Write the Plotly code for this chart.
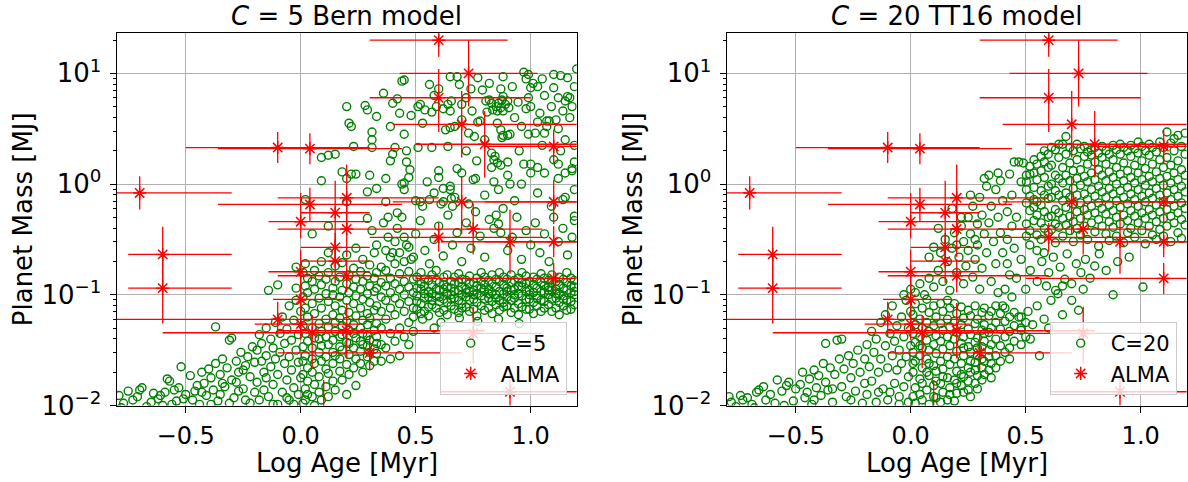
import numpy as np
import plotly.graph_objects as go

# ---------------- ALMA candidate planets (same in both panels) ----------------
alma_log_age = [0.60, 0.73, 0.60, 0.70, 0.80, 1.10, -0.10, 0.04, -0.70, -0.60, -0.60, 0.70, 1.10,
                0.04, 0.20, 0.15, 0.00, 0.20, 0.60, 0.75, 0.91, 1.10, 1.10, 0.15, 0.15, 0.20,
                0.00, 0.00, -0.10, 0.00, 0.05, 0.20, 0.30, 0.75, 0.91, 0.10]
alma_log_mass = [1.30, 1.00, 0.78, 0.54, 0.36, 0.34, 0.33, 0.32, -0.08, -0.635, -0.94, -0.16, -0.16,
                 -0.184, -0.124, -0.259, -0.34, -0.406, -0.482, -0.406, -0.521, -0.521, -0.852, -0.572, -0.696, -0.828,
                 -0.792, -1.042, -1.222, -1.265, -1.343, -1.325, -1.524, -1.349, -1.876, -2.10]
alma_age_err_lo = [0.30, 0.30, 0.30, 0.30, 0.30, 0.30, 0.40, 0.40, 0.40, 0.15, 0.15, 0.30, 0.30,
                   0.40, 0.30, 0.15, 0.14, 0.30, 0.30, 0.35, 0.30, 0.30, 0.60, 0.15, 0.15, 0.30,
                   0.14, 0.12, 0.70, 0.20, 0.65, 0.30, 0.40, 0.31, 0.30, 0.30]
alma_age_err_hi = [0.30, 0.30, 0.40, 0.60, 0.60, 0.30, 0.40, 0.40, 0.40, 0.30, 0.30, 0.60, 0.30,
                   0.40, 0.40, 0.15, 0.30, 0.30, 0.45, 0.30, 0.30, 0.30, 0.30, 0.15, 0.15, 0.40,
                   0.30, 0.18, 0.50, 0.26, 0.40, 0.60, 0.40, 0.30, 0.30, 0.30]
alma_mass_err_lo_dex = [0.15, 0.30, 0.31, 0.30, 0.30, 0.15, 0.14, 0.14, 0.15, 0.25, 0.32, 0.29, 0.20,
                        0.15, 0.29, 0.28, 0.15, 0.25, 0.13, 0.23, 0.29, 0.14, 0.14, 0.13, 0.20, 0.15,
                        0.20, 0.20, 0.16, 0.14, 0.32, 0.25, 0.16, 0.27, 0.22, 0.20]
alma_mass_err_hi_dex = [0.15, 0.30, 0.26, 0.30, 0.30, 0.15, 0.14, 0.14, 0.15, 0.25, 0.30, 0.23, 0.20,
                        0.15, 0.30, 0.29, 0.26, 0.25, 0.13, 0.23, 0.29, 0.14, 0.14, 0.13, 0.20, 0.15,
                        0.20, 0.20, 0.16, 0.14, 0.16, 0.25, 0.16, 0.24, 0.22, 0.33]

# ---------------- C=5 Bern model population (log age, log10 mass) ----------------
bern_points = [
    # tail
    (-0.79,-1.91),(-0.77,-1.98),(-0.75,-1.87),(-0.73,-1.95),(-0.71,-1.92),(-0.70,-1.86),(-0.69,-1.84),
    (-0.67,-2.01),(-0.65,-1.97),(-0.64,-1.89),(-0.62,-1.94),(-0.61,-1.91),(-0.59,-1.88),(-0.58,-1.76),
    (-0.57,-1.78),(-0.56,-1.99),(-0.55,-1.86),(-0.53,-1.84),(-0.52,-1.65),(-0.51,-1.94),(-0.50,-1.90),
    (-0.78,-2.02),(-0.60,-2.00),(-0.54,-1.96),
    (-0.48,-1.73),(-0.47,-1.95),(-0.46,-1.87),(-0.45,-1.82),(-0.44,-1.99),(-0.43,-1.70),(-0.42,-1.80),
    (-0.41,-1.91),(-0.40,-1.67),(-0.39,-1.75),(-0.38,-1.86),(-0.37,-1.29),(-0.37,-1.62),(-0.36,-1.96),
    (-0.35,-1.72),(-0.34,-1.58),(-0.33,-1.83),(-0.32,-1.66),(-0.31,-1.41),(-0.30,-1.39),(-0.30,-1.77),
    (-0.29,-1.93),(-0.28,-1.60),(-0.27,-1.70),(-0.26,-1.52),(-0.25,-1.85),(-0.24,-1.64),(-0.23,-1.56),
    (-0.22,-1.98),(-0.22,-1.74),(-0.21,-1.47),(-0.20,-1.61),(-0.20,-1.88),(-0.43,-1.88),(-0.39,-1.99),
    (-0.35,-1.90),(-0.31,-1.98),(-0.27,-1.87),(-0.24,-1.95),(-0.34,-1.80),(-0.28,-1.79),(-0.25,-1.68),
    (-0.19,-1.50),(-0.19,-1.79),(-0.18,-1.36),(-0.18,-1.95),(-0.17,-1.60),(-0.17,-1.44),(-0.16,-1.86),
    (-0.16,-1.70),(-0.15,-1.30),(-0.15,-1.55),(-0.14,-0.96),(-0.14,-1.92),(-0.13,-1.65),(-0.13,-1.40),
    (-0.12,-1.48),(-0.12,-1.81),(-0.11,-1.25),(-0.11,-1.58),(-0.10,-1.99),(-0.10,-1.72),(-0.10,-0.91),
    (-0.09,-1.35),(-0.09,-1.52),(-0.08,-1.88),(-0.08,-1.20),(-0.07,-1.62),(-0.07,-1.44),(-0.06,-1.77),
    (-0.06,-1.31),(-0.05,-1.10),(-0.05,-1.56),(-0.05,-1.95),(-0.04,-1.41),(-0.04,-1.68),(-0.03,-1.23),
    (-0.03,-1.84),(-0.02,-1.50),(-0.02,-1.05),(-0.02,-0.94),(-0.01,-1.36),(-0.01,-1.61),(-0.01,-1.90),
    (0.00,-1.15),(0.00,-1.75),(-0.06,-1.93),(-0.15,-1.75),(-0.12,-1.99),(-0.03,-1.99),(-0.02,-0.75),
    # scatter above the core
    (0.20,0.70),(0.28,0.71),(0.29,0.67),(0.33,0.61),(0.21,0.55),(0.22,0.52),(0.31,0.47),(0.31,0.40),
    (0.31,0.33),(0.23,0.34),(0.09,0.24),(0.12,0.26),(0.15,0.27),(0.09,0.03),(0.18,0.11),(0.20,0.05),
    (0.22,0.09),(0.24,0.09),(0.30,0.08),(0.29,-0.07),(0.33,-0.04),(0.37,0.05),(0.02,-0.14),(0.36,0.82),
    (0.40,0.73),(0.43,0.64),(0.42,0.77),(0.39,0.52),(0.39,0.21),(0.40,0.27),(0.41,0.33),(0.44,0.93),
    (0.44,0.00),(0.37,-0.16),(0.38,-0.30),(0.42,-0.26),(0.29,-0.31),(0.20,-0.16),(0.05,-0.45),(0.12,-0.38),
    # middle zone
    (0.31,-0.42),(0.33,-0.55),(0.36,-0.35),(0.38,-0.48),(0.40,-0.62),(0.42,-0.40),(0.44,-0.30),(0.46,-0.55),
    (0.48,-0.68),(0.50,-0.45),(0.52,-0.33),(0.54,-0.60),(0.56,-0.72),(0.58,-0.50),(0.60,-0.38),(0.62,-0.65),
    (0.64,-0.28),(0.66,-0.55),(0.68,-0.44),(0.70,-0.70),(0.72,-0.35),(0.74,-0.58),(0.76,-0.25),(0.78,-0.47),
    (0.80,-0.66),(0.82,-0.32),(0.84,-0.40),(0.85,-0.28),(0.86,-0.36),(0.87,-0.44),(0.88,-0.22),(0.90,-0.60),
    (0.92,-0.48),(0.94,-0.30),(0.96,-0.68),(0.98,-0.42),(1.00,-0.55),(1.02,-0.35),(1.04,-0.62),(1.06,-0.45),
    (1.08,-0.70),(1.10,-0.30),(1.12,-0.52),(1.14,-0.40),(1.16,-0.64),(1.18,-0.48),(1.19,-0.33),(1.19,-0.29),
    (0.45,-0.05),(0.47,0.06),(0.50,-0.15),(0.53,-0.20),(0.55,0.02),(0.58,-0.08),(0.60,0.12),(0.62,-0.16),
    (0.65,-0.02),(0.67,-0.12),(0.70,0.10),(0.73,-0.18),(0.76,0.05),(0.80,-0.10),(0.83,0.15),(0.86,-0.05),
    (0.90,0.08),(0.93,-0.15),(0.96,0.00),(1.00,0.18),(1.03,-0.08),(1.06,0.10),(1.09,-0.20),(1.12,0.05),
    (1.15,-0.12),(1.18,0.14),(1.19,-0.05),(1.15,0.10),(1.14,-0.14),
    (0.53,-1.22),(0.61,-1.25),(0.69,-1.21),(0.77,-1.24),(0.86,-1.22),(0.95,-1.26),(0.58,-1.30),
    # upper (giant planet) cluster
    (0.65,0.97),(0.68,0.97),(0.77,0.96),(0.82,0.91),(0.45,0.94),(0.99,0.99),(0.98,0.95),(1.01,0.91),
    (1.00,0.87),(1.03,0.88),(1.10,0.99),(1.13,0.98),(1.16,0.96),(1.10,0.87),(1.20,1.04),(0.97,1.01),
    (1.05,0.95),(0.88,0.97),(0.56,0.90),(0.60,0.86),
    (0.87,0.86),(0.88,0.79),(0.875,0.76),(0.86,0.73),(0.85,0.70),(0.87,0.69),(0.89,0.72),(0.90,0.75),
    (0.905,0.69),(0.835,0.67),(0.83,0.73),(0.855,0.66),(0.88,0.66),
    (0.945,0.74),(0.98,0.68),(0.99,0.78),(1.00,0.70),
    (1.04,0.64),(1.03,0.56),(1.07,0.57),(1.07,0.52),(1.06,0.46),(1.02,0.46),(0.99,0.45),
    (1.16,0.79),(1.17,0.78),(1.15,0.75),(1.18,0.70),(1.11,0.58),(1.08,0.57),
    (0.51,0.70),(0.52,0.72),(0.54,0.67),(0.57,0.65),(0.59,0.70),(0.62,0.68),(0.65,0.66),(0.64,0.72),
    (0.655,0.75),(0.70,0.72),(0.745,0.66),(0.74,0.86),(0.72,0.78),(0.70,0.58),
    (0.78,0.57),(0.81,0.65),(0.805,0.75),(0.82,0.76),
    (0.855,0.55),(0.87,0.49),(0.90,0.44),(0.91,0.45),(0.88,0.44),(0.875,0.42),
    (0.63,0.49),(0.65,0.51),(0.67,0.52),(0.77,0.56),(0.73,0.46),(0.755,0.43),
    (0.83,0.28),(0.845,0.25),(0.84,0.22),(0.855,0.19),(0.87,0.17),(0.90,0.20),
    (0.765,0.21),(0.68,0.14),(0.60,0.06),(0.75,0.04),(0.84,0.02),(0.91,0.00),
    (0.62,-0.04),(0.65,-0.05),(0.655,-0.13),(0.66,-0.20),(0.61,-0.18),(0.56,-0.14),(0.52,-0.16),
    (0.46,0.20),(0.475,0.13),(0.45,0.01),(0.46,0.30),(0.45,0.45),
    (0.51,0.33),(0.57,0.33),(0.64,0.34),
    (0.97,0.18),(1.00,0.10),(1.03,0.15),(1.10,0.22),(1.12,0.18),(1.19,0.20),(1.18,0.12),
    (1.12,0.50),(1.15,0.40),(1.19,0.35),(1.05,0.35),(0.95,0.30),(1.17,0.60),(1.14,0.66),(1.19,0.88),
    (1.12,0.78),(0.48,0.62),(0.53,0.55),(0.58,0.80),(0.69,0.90),(0.79,0.85),(0.93,0.60),(0.96,0.52),
    (1.09,0.70),(1.13,0.30),(0.72,0.30),(0.80,0.40),(0.92,0.88),(1.06,0.80),
]

# dense regions, listed column by column: (log age, [log10 masses])
bern_columns = [
    (0.01, [-1.98,-1.72,-1.47,-1.28,-1.02,-0.80,-1.60]),
    (0.02, [-1.85,-1.55,-1.35,-1.12,-0.92,-1.95,-0.72]),
    (0.03, [-1.66,-1.42,-1.20,-0.98,-1.78,-1.90,-0.85]),
    (0.05, [-1.92,-1.58,-1.30,-1.08,-0.88,-1.70,-1.48]),
    (0.06, [-1.81,-1.39,-1.17,-0.95,-1.62,-0.78,-2.00]),
    (0.08, [-1.74,-1.52,-1.26,-1.03,-0.83,-1.88,-1.40]),
    (0.09, [-1.95,-1.60,-1.33,-1.12,-0.91,-0.70,-1.46]),
    (0.11, [-1.83,-1.56,-1.22,-0.99,-0.86,-1.67,-1.38]),
    (0.12, [-1.71,-1.45,-1.29,-1.06,-0.80,-1.92,-0.62]),
    (0.14, [-1.62,-1.41,-1.18,-0.94,-1.78,-1.52,-1.00]),
    (0.15, [-1.86,-1.55,-1.33,-1.10,-0.88,-1.25,-0.74]),
    (0.17, [-1.69,-1.47,-1.21,-1.02,-0.84,-1.38,-1.58]),
    (0.18, [-1.77,-1.36,-1.14,-0.96,-0.71,-1.50,-1.28]),
    (0.20, [-1.63,-1.43,-1.24,-1.05,-0.90,-1.90,-0.64]),
    (0.21, [-1.54,-1.32,-1.16,-0.98,-0.82,-1.72,-1.44]),
    (0.23, [-1.66,-1.48,-1.27,-1.08,-0.93,-0.76,-1.35]),
    (0.24, [-1.58,-1.39,-1.19,-1.01,-0.86,-1.82,-0.58]),
    (0.26, [-1.51,-1.30,-1.12,-0.95,-0.79,-1.42,-1.62]),
    (0.27, [-1.70,-1.45,-1.23,-1.04,-0.88,-0.68,-1.35]),
    (0.29, [-1.56,-1.37,-1.17,-0.99,-0.83,-1.27,-1.46]),
    (0.30, [-1.64,-1.41,-1.21,-1.07,-0.92,-0.73,-1.52]),
    (0.32, [-1.49,-1.32,-1.14,-0.97,-0.85,-1.60,-0.62]),
    (0.33, [-1.53,-1.38,-1.26,-1.10,-0.94,-0.80,-1.44]),
    (0.35, [-1.45,-1.30,-1.15,-1.02,-0.89,-0.75,-1.60]),
    (0.37, [-1.48,-1.22,-1.05,-0.92,-0.78,-0.60]),
    (0.39, [-1.35,-1.12,-0.98,-0.85,-0.66,-1.58]),
    (0.41, [-1.42,-1.18,-1.03,-0.90,-0.72,-0.52]),
    (0.43, [-1.30,-1.08,-0.95,-0.81,-1.55,-0.62]),
    (0.45, [-1.38,-1.15,-1.00,-0.88,-0.70,-0.48]),
    (0.47, [-1.25,-1.06,-0.93,-0.79,-1.45,-0.57]),
    (0.49, [-1.33,-1.12,-0.98,-0.86,-0.66,-1.20]),
    # the band of ~0.1 MJ planets
    (0.505, [-1.13,-1.01,-0.94,-0.84,-1.06]), (0.523, [-1.08,-0.95,-0.90,-0.80,-1.17]),
    (0.538, [-1.15,-1.03,-0.92,-0.99,-0.86]), (0.556, [-1.02,-0.97,-0.87,-1.11,-1.19]),
    (0.571, [-1.09,-0.99,-0.91,-0.82,-1.05]), (0.589, [-1.12,-1.01,-0.95,-0.87,-0.78]),
    (0.603, [-1.06,-0.96,-0.89,-1.16,-1.02]), (0.622, [-1.14,-1.04,-0.95,-0.84,-0.91]),
    (0.637, [-1.07,-0.99,-0.93,-0.82,-1.18]), (0.654, [-1.10,-1.00,-0.94,-0.88,-1.04]),
    (0.668, [-1.03,-0.97,-0.90,-0.84,-1.13]), (0.687, [-1.16,-1.05,-0.96,-0.89,-0.81]),
    (0.701, [-1.08,-1.00,-0.93,-0.86,-1.12]), (0.719, [-1.11,-1.02,-0.95,-0.87,-0.98]),
    (0.734, [-1.05,-0.97,-0.90,-0.83,-1.15]), (0.752, [-1.13,-1.04,-0.96,-0.89,-1.00]),
    (0.766, [-1.07,-0.99,-0.92,-0.85,-1.19]), (0.785, [-1.10,-1.01,-0.94,-0.80,-0.88]),
    (0.799, [-1.04,-0.96,-0.91,-0.84,-1.14]), (0.817, [-1.12,-1.03,-0.95,-0.87,-0.99]),
    (0.832, [-1.06,-0.98,-0.90,-0.82,-1.17]), (0.849, [-1.09,-1.00,-0.93,-0.86,-1.03]),
    (0.864, [-1.14,-1.05,-0.97,-0.88,-0.80]), (0.882, [-1.07,-0.99,-0.91,-0.84,-1.11]),
    (0.897, [-1.10,-1.02,-0.94,-0.86,-0.97]), (0.915, [-1.05,-0.96,-0.89,-0.82,-1.16]),
    (0.929, [-1.12,-1.03,-0.95,-0.87,-1.00]), (0.947, [-1.08,-0.99,-0.92,-0.85,-1.18]),
    (0.962, [-1.11,-1.01,-0.93,-0.80,-0.89]), (0.980, [-1.04,-0.97,-0.90,-0.83,-1.13]),
    (0.994, [-1.13,-1.04,-0.96,-0.88,-1.00]), (1.012, [-1.07,-0.98,-0.91,-0.84,-1.17]),
    (1.027, [-1.10,-1.01,-0.94,-0.86,-1.03]), (1.045, [-1.15,-1.05,-0.97,-0.89,-0.81]),
    (1.059, [-1.06,-0.98,-0.92,-0.85,-1.12]), (1.077, [-1.09,-1.00,-0.93,-0.87,-0.96]),
    (1.092, [-1.04,-0.96,-0.89,-0.82,-1.15]), (1.110, [-1.12,-1.03,-0.95,-0.88,-0.99]),
    (1.124, [-1.07,-0.99,-0.91,-0.84,-1.18]), (1.142, [-1.10,-1.01,-0.94,-0.86,-1.04]),
    (1.157, [-1.14,-1.05,-0.96,-0.80,-0.89]), (1.175, [-1.06,-0.98,-0.92,-0.85,-1.13]),
    (1.190, [-1.09,-1.00,-0.93,-0.87,-0.97]),
]

# ---------------- C=20 TT16 model population (log age, log10 mass) ----------------
tt16_points = [
    (-0.79,-1.92),(-0.78,-1.97),(-0.76,-2.01),(-0.74,-1.91),(-0.73,-1.95),(-0.71,-1.93),(-0.69,-1.99),
    (-0.67,-1.88),(-0.66,-1.86),(-0.64,-1.83),(-0.63,-1.95),(-0.61,-1.90),(-0.59,-1.98),(-0.58,-1.77),
    (-0.56,-1.87),(-0.54,-1.82),(-0.53,-1.79),(-0.51,-1.96),(-0.50,-1.85),(-0.48,-1.81),(-0.47,-1.70),
    (-0.46,-1.93),(-0.45,-1.88),(-0.44,-1.76),(-0.43,-1.99),(-0.42,-1.68),(-0.41,-1.84),(-0.40,-1.73),
    (-0.39,-1.91),(-0.38,-1.62),(-0.37,-1.44),(-0.37,-1.79),(-0.36,-1.86),(-0.35,-1.66),(-0.34,-1.97),
    (-0.33,-1.72),(-0.32,-1.41),(-0.31,-1.58),(-0.30,-1.40),(-0.30,-1.83),(-0.29,-1.67),(-0.28,-1.92),
    (-0.27,-1.55),(-0.26,-1.75),(-0.25,-1.62),(-0.24,-1.87),(-0.23,-1.50),(-0.22,-1.70),(-0.21,-1.98),
    (-0.20,-1.58),(-0.20,-1.80),(-0.68,-2.02),(-0.55,-2.00),(-0.42,-1.95),(-0.34,-1.85),(-0.26,-1.95),
    (-0.19,-1.45),(-0.19,-1.90),(-0.18,-1.65),(-0.17,-1.33),(-0.17,-1.78),(-0.16,-1.52),(-0.15,-1.97),
    (-0.15,-1.40),(-0.14,-1.70),(-0.13,-1.25),(-0.13,-1.58),(-0.12,-1.85),(-0.11,-1.46),(-0.11,-1.18),
    (-0.10,-1.66),(-0.10,-1.95),(-0.09,-1.35),(-0.08,-1.55),(-0.08,-1.10),(-0.07,-1.80),(-0.07,-1.42),
    (-0.06,-1.28),(-0.06,-1.68),(-0.05,-1.92),(-0.05,-1.50),(-0.04,-1.20),(-0.04,-1.62),(-0.03,-1.38),
    (-0.03,-1.83),(-0.02,-1.05),(-0.02,-1.56),(-0.01,-1.30),(-0.01,-1.74),(-0.01,-1.97),(0.00,-1.46),
    (0.00,-1.15),(-0.03,-1.00),(-0.09,-1.88),(-0.14,-1.88),(-0.05,-1.99),
    # rising arm between the two clusters
    (0.00,-0.95),(0.02,-0.98),(0.04,-0.90),(0.06,-1.00),(0.08,-0.85),(0.08,-0.66),(0.10,-0.57),(0.10,-0.93),
    (0.12,-0.78),(0.13,-0.62),(0.14,-0.88),(0.15,-0.50),(0.16,-0.70),(0.17,-0.96),(0.18,-0.58),(0.19,-0.44),
    (0.20,-0.80),(0.21,-0.66),(0.22,-0.38),(0.23,-0.52),(0.23,-0.90),(0.24,-0.74),(0.25,-0.30),(0.25,-0.60),
    (0.26,-0.45),(0.27,-0.84),(0.27,-0.20),(0.28,-0.68),(0.29,-0.36),(0.29,-0.55),(0.30,-0.12),(0.30,-0.95),
    (0.31,-0.28),(0.31,-0.76),(0.32,-0.45),(0.33,-0.02),(0.33,-0.62),(0.34,0.08),(0.34,-0.35),(0.35,-0.88),
    (0.35,-0.20),(0.36,-0.52),(0.37,-0.05),(0.37,-0.72),(0.38,-0.30),(0.39,0.03),(0.39,-0.44),(0.40,-0.15),
    (0.40,-0.62),(0.41,-0.95),(0.42,-0.25),(0.42,-0.50),(0.43,0.09),(0.43,-0.82),(0.44,-0.38),(0.44,-0.10),
    (0.45,-0.58),(0.45,0.20),(0.46,-0.30),(0.47,0.20),(0.48,0.02),(0.49,0.19),(0.22,-0.30),(0.18,-0.22),
    (0.12,-0.40),(0.26,-0.10),(0.32,0.05),(0.38,0.10),(0.20,-0.55),(0.28,-0.50),
    # sparse zone below the giant cluster
    (0.38,-0.98),(0.40,-1.10),(0.42,-0.72),(0.44,-1.02),(0.46,-0.85),(0.47,-1.20),(0.48,-0.68),(0.50,-0.95),
    (0.51,-1.15),(0.52,-0.78),(0.53,-1.27),(0.55,-0.88),(0.55,-1.10),(0.57,-0.70),(0.58,-1.22),(0.59,-0.92),
    (0.60,-0.80),(0.61,-1.05),(0.62,-0.66),(0.63,-0.96),(0.64,-0.99),(0.65,-0.75),(0.66,-1.18),(0.67,-0.86),
    (0.68,-0.63),(0.70,-0.90),(0.72,-0.72),(0.73,-1.14),(0.74,-0.80),(0.76,-0.68),(0.78,-0.85),(0.80,-0.74),
    (0.82,-0.63),(0.85,-0.78),(0.88,-1.00),(0.90,-0.70),(0.95,-0.66),(1.01,-0.93),(0.48,-1.32),(0.60,-1.30),
    (0.52,-1.40),(0.56,-1.55),(0.70,-1.05),(0.75,-0.95),(0.66,-0.92),(0.58,-0.62),
]

tt16_columns = [
    (0.01, [-1.92,-1.70,-1.52,-1.35,-1.18,-1.62]), (0.02, [-1.84,-1.60,-1.43,-1.27,-1.08,-1.98]),
    (0.04, [-1.76,-1.55,-1.38,-1.22,-1.90,-1.46]), (0.05, [-1.95,-1.66,-1.48,-1.30,-1.12,-1.80]),
    (0.07, [-1.86,-1.58,-1.41,-1.25,-1.70,-1.04]), (0.08, [-1.99,-1.73,-1.50,-1.33,-1.16,-1.62]),
    (0.10, [-1.82,-1.64,-1.45,-1.28,-1.10,-1.92]), (0.11, [-1.93,-1.69,-1.53,-1.37,-1.20,-1.78]),
    (0.13, [-1.80,-1.60,-1.42,-1.26,-1.08,-1.97]), (0.14, [-1.88,-1.67,-1.49,-1.32,-1.15,-1.74]),
    (0.16, [-1.95,-1.75,-1.56,-1.38,-1.22,-1.05]), (0.17, [-1.84,-1.63,-1.46,-1.29,-1.12,-1.90]),
    (0.19, [-1.77,-1.58,-1.40,-1.24,-1.08,-1.96]), (0.20, [-1.89,-1.69,-1.51,-1.34,-1.17,-1.80]),
    (0.22, [-1.82,-1.62,-1.44,-1.27,-1.11,-1.72]), (0.23, [-1.74,-1.55,-1.38,-1.21,-1.88,-1.48]),
    (0.25, [-1.86,-1.66,-1.47,-1.31,-1.14,-1.78]), (0.26, [-1.70,-1.52,-1.36,-1.19,-1.60,-1.92]),
    (0.28, [-1.80,-1.61,-1.43,-1.26,-1.10,-1.68]), (0.29, [-1.73,-1.55,-1.39,-1.22,-1.85,-1.48]),
    (0.31, [-1.66,-1.47,-1.32,-1.16,-1.58,-1.77]), (0.32, [-1.60,-1.42,-1.27,-1.12,-1.72,-1.35]),
    (0.34, [-1.68,-1.50,-1.34,-1.19,-1.56]), (0.35, [-1.62,-1.45,-1.30,-1.15,-1.75]),
    (0.37, [-1.55,-1.40,-1.25,-1.10,-1.66]), (0.39, [-1.60,-1.46,-1.31,-1.17]),
    (0.41, [-1.52,-1.38,-1.24,-1.12]), (0.43, [-1.48,-1.33,-1.20,-1.58]),
    (0.45, [-1.42,-1.28,-1.16]), (0.48, [-1.45,-1.30,-1.20]), (0.50, [-1.38,-1.25]),
    # giant-planet cluster
    (0.503, [0.08,-0.05,-0.17,-0.36,-0.47,0.02]), (0.518, [0.16,0.09,-0.11,-0.24,-0.42,-0.55]),
    (0.536, [0.10,-0.03,-0.21,-0.33,0.22,-0.14]), (0.549, [0.18,0.04,-0.16,-0.28,-0.46,-0.60]),
    (0.567, [0.25,0.12,-0.06,-0.19,-0.35,-0.50]), (0.581, [0.06,-0.10,-0.25,-0.40,0.20,0.30]),
    (0.598, [0.27,0.15,-0.02,-0.13,-0.30,-0.44]), (0.612, [0.17,0.00,-0.12,-0.29,-0.41,0.33]),
    (0.629, [0.31,0.08,-0.06,-0.23,-0.36,-0.53]), (0.644, [0.24,0.05,-0.10,-0.26,-0.39,0.36]),
    (0.661, [0.36,0.15,0.01,-0.15,-0.31,-0.47]), (0.675, [0.27,0.08,-0.08,-0.21,-0.37,0.43]),
    (0.692, [0.33,0.19,0.03,-0.12,-0.29,-0.42]), (0.707, [0.30,0.12,-0.04,-0.18,-0.34,-0.52]),
    (0.723, [0.36,0.22,0.05,-0.10,-0.25,-0.40]), (0.738, [0.32,0.13,-0.01,-0.17,-0.31,-0.46]),
    (0.755, [0.25,0.07,-0.09,-0.23,-0.38,0.34]), (0.769, [0.29,0.18,0.02,-0.14,-0.28,-0.50]),
    (0.786, [0.26,0.10,-0.05,-0.20,-0.35,0.31]), (0.801, [0.33,0.20,0.04,-0.11,-0.26,-0.43]),
    (0.817, [0.28,0.13,-0.02,-0.17,-0.32,-0.56]), (0.832, [0.24,0.08,-0.07,-0.22,-0.38,0.34]),
    (0.849, [0.30,0.18,0.03,-0.12,-0.27,-0.45]), (0.863, [0.27,0.11,-0.04,-0.19,-0.34,-0.51]),
    (0.880, [0.35,0.22,0.06,-0.09,-0.24,-0.39]), (0.895, [0.31,0.15,0.00,-0.15,-0.30,-0.47]),
    (0.911, [0.27,0.09,-0.06,-0.21,-0.36,0.36]), (0.926, [0.33,0.19,0.03,-0.12,-0.28,-0.53]),
    (0.943, [0.30,0.12,-0.03,-0.18,-0.33,-0.44]), (0.957, [0.25,0.06,-0.09,-0.24,-0.40,0.35]),
    (0.974, [0.32,0.17,0.01,-0.14,-0.29,-0.48]), (0.989, [0.28,0.10,-0.05,-0.20,-0.35,0.38]),
    (1.005, [0.34,0.21,0.04,-0.11,-0.26,-0.42]), (1.020, [0.30,0.14,-0.01,-0.16,-0.31,-0.54]),
    (1.037, [0.26,0.07,-0.08,-0.23,-0.38,0.36]), (1.051, [0.33,0.18,0.02,-0.13,-0.28,-0.46]),
    (1.068, [0.29,0.11,-0.04,-0.19,-0.34,-0.50]), (1.083, [0.38,0.22,0.05,-0.10,-0.25,-0.41]),
    (1.099, [0.33,0.15,-0.01,-0.16,-0.31,-0.47]), (1.114, [0.47,0.24,0.07,-0.08,-0.23,-0.38]),
    (1.131, [0.37,0.17,0.01,-0.14,-0.29,-0.52]), (1.145, [0.30,0.10,-0.05,-0.20,-0.35,0.41]),
    (1.162, [0.44,0.21,0.04,-0.11,-0.26,-0.44]), (1.177, [0.34,0.13,-0.02,-0.17,-0.32,-0.49]),
    (1.193, [0.27,0.08,-0.07,-0.22,-0.37,0.46]),
]

x_tick_vals = [-0.5, 0.0, 0.5, 1.0]
x_tick_text = ["\u22120.5", "0.0", "0.5", "1.0"]
y_tick_vals = [0.01, 0.1, 1, 10]
y_tick_text = ["10<sup>\u22122</sup>", "10<sup>\u22121</sup>", "10<sup>0</sup>", "10<sup>1</sup>"]
panel_titles = ["<i>C</i> = 5 Bern model", "<i>C</i> = 20 TT16 model"]
model_labels = ["C=5", "C=20"]


def expand(points, columns):
    xs = [p[0] for p in points]
    ys = [p[1] for p in points]
    for cx, cys in columns:
        for cy in cys:
            xs.append(cx)
            ys.append(cy)
    return np.array(xs), np.power(10.0, np.array(ys))


FONT = "DejaVu Sans"
W, H = 1188, 482
GREEN = "#008000"
RED = "#ff0000"

fig = go.Figure()

alma_m = np.power(10.0, np.array(alma_log_mass))
err_hi = alma_m * (np.power(10.0, np.array(alma_mass_err_hi_dex)) - 1)
err_lo = alma_m * (1 - np.power(10.0, -np.array(alma_mass_err_lo_dex)))

datasets = [expand(bern_points, bern_columns), expand(tt16_points, tt16_columns)]
for i, (mx, my) in enumerate(datasets):
    xa = "x" if i == 0 else "x2"
    ya = "y" if i == 0 else "y2"
    lg = "legend" if i == 0 else "legend2"
    fig.add_trace(go.Scatter(
        x=mx, y=my, mode="markers", name=model_labels[i], xaxis=xa, yaxis=ya, legend=lg,
        marker=dict(symbol="circle-open", size=8, color=GREEN, line=dict(width=1.4, color=GREEN))))
    fig.add_trace(go.Scatter(
        x=alma_log_age, y=alma_m, mode="markers", name="ALMA", xaxis=xa, yaxis=ya, legend=lg,
        marker=dict(symbol="asterisk-open", size=11, color=RED, line=dict(width=1.5, color=RED)),
        error_x=dict(type="data", symmetric=False, array=alma_age_err_hi, arrayminus=alma_age_err_lo,
                     color=RED, thickness=1.3, width=0),
        error_y=dict(type="data", symmetric=False, array=err_hi, arrayminus=err_lo,
                     color=RED, thickness=1.3, width=0)))

# geometry (pixels)
px_l = [116.7, 726.7]
px_w = 460.0
px_top, px_bot = 33.3, 405.5
ydom = [1 - px_bot / H, 1 - px_top / H]

minor_vals = [m * 10.0 ** e for e in range(-2, 2) for m in range(2, 10)]

for i in range(2):
    xd = [px_l[i] / W, (px_l[i] + px_w) / W]
    xkey = "xaxis" if i == 0 else "xaxis2"
    ykey = "yaxis" if i == 0 else "yaxis2"
    fig.update_layout(**{
        xkey: dict(domain=xd, range=[-0.8, 1.2], anchor="y" if i == 0 else "y2", automargin=False,
                   tickmode="array", tickvals=x_tick_vals, ticktext=x_tick_text,
                   ticks="outside", ticklen=6, tickwidth=1.2, tickcolor="black",
                   showline=True, linecolor="black", linewidth=1.3, mirror=True,
                   showgrid=True, gridcolor="#b0b0b0", gridwidth=1, zeroline=False,
                   tickfont=dict(family=FONT, size=24, color="black"), ticklabelstandoff=3),
        ykey: dict(domain=ydom, type="log", range=[-2, 1.362], anchor="x" if i == 0 else "x2",
                   automargin=False,
                   tickmode="array", tickvals=y_tick_vals, ticktext=y_tick_text,
                   ticks="outside", ticklen=6, tickwidth=1.2, tickcolor="black",
                   minor=dict(tickmode="array", tickvals=minor_vals, ticks="outside", ticklen=3,
                              tickwidth=1, tickcolor="black", showgrid=False),
                   showline=True, linecolor="black", linewidth=1.3, mirror=True,
                   showgrid=True, gridcolor="#b0b0b0", gridwidth=1, zeroline=False,
                   tickfont=dict(family=FONT, size=26, color="black"), ticklabelstandoff=3),
    })

annotations = []
for i in range(2):
    cx = (px_l[i] + px_w / 2) / W
    annotations.append(dict(text=panel_titles[i], x=cx, y=1 - 16 / H, xref="paper", yref="paper",
                            xanchor="center", yanchor="middle", showarrow=False,
                            font=dict(family=FONT, size=26, color="black")))
    annotations.append(dict(text="Log Age [Myr]", x=cx, y=1 - 463 / H, xref="paper", yref="paper",
                            xanchor="center", yanchor="middle", showarrow=False,
                            font=dict(family=FONT, size=26, color="black")))
    annotations.append(dict(text="Planet Mass [MJ]", x=(px_l[i] - 93.5) / W, y=1 - 219 / H,
                            xref="paper", yref="paper", xanchor="center", yanchor="middle",
                            textangle=-90, showarrow=False,
                            font=dict(family=FONT, size=26, color="black")))

leg_common = dict(xanchor="right", yanchor="bottom", bgcolor="rgba(255,255,255,0.8)",
                  bordercolor="#cccccc", borderwidth=1,
                  font=dict(family=FONT, size=21, color="black"), itemwidth=50)
fig.update_layout(
    width=W, height=H, margin=dict(l=0, r=0, t=0, b=0, autoexpand=False),
    paper_bgcolor="white", plot_bgcolor="white",
    showlegend=True,
    legend=dict(x=(px_l[0] + px_w - 10) / W, y=1 - 395 / H, **leg_common),
    legend2=dict(x=(px_l[1] + px_w - 10) / W, y=1 - 395 / H, **leg_common),
    annotations=annotations,
)

fig.write_html("out.html", config={"displayModeBar": False},
               post_script="document.body.style.margin='0px';document.body.style.overflow='hidden';")
